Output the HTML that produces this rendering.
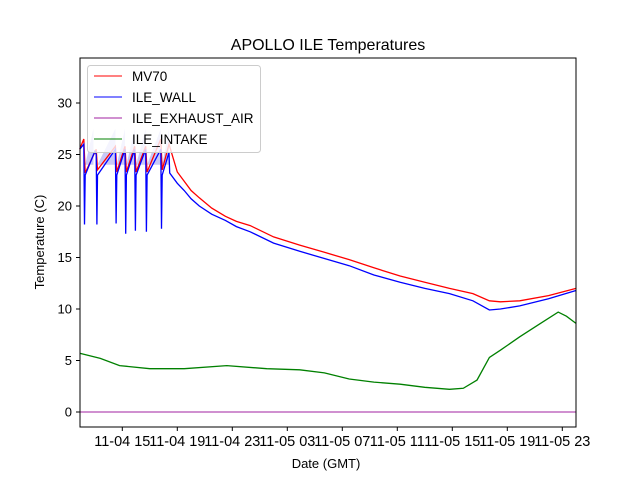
<!DOCTYPE html>
<html><head><meta charset="utf-8"><style>
body{margin:0;background:#fff;}
svg{display:block;font-family:"Liberation Sans","DejaVu Sans",sans-serif;}
</style></head><body>
<svg id="chart" width="640" height="480">
<rect width="640" height="480" fill="#fff"/>
<text x="328" y="50" text-anchor="middle" font-size="16">APOLLO ILE Temperatures</text>
<g id="series"></g>
<rect x="80" y="58" width="496" height="369" fill="none" stroke="#000" stroke-width="1"/>
<g id="axes"></g>
<text x="326" y="468" text-anchor="middle" font-size="13">Date (GMT)</text>
<text transform="translate(44,242) rotate(-90)" text-anchor="middle" font-size="13">Temperature (C)</text>
<g>
<rect x="87.5" y="65.5" width="173" height="87" rx="3" fill="#fff" fill-opacity="0.8" stroke="#ccc"/>
<g><line x1="94" y1="76" x2="122" y2="76" stroke="red"/><text x="132" y="81" font-size="13.5">MV70</text></g>
<g><line x1="94" y1="97" x2="122" y2="97" stroke="blue"/><text x="132" y="102" font-size="13.5">ILE_WALL</text></g>
<g><line x1="94" y1="118" x2="122" y2="118" stroke="#a020a0"/><text x="132" y="123" font-size="13.5">ILE_EXHAUST_AIR</text></g>
<g><line x1="94" y1="139" x2="122" y2="139" stroke="green"/><text x="132" y="144" font-size="13.5">ILE_INTAKE</text></g>
</g>
</svg>
<script>
// hours since 11-04 00:00
const blueT=[11.9,12.2,12.25,12.3,13.0,13.1,13.15,13.2,14.5,14.55,14.6,15.2,15.25,15.3,15.9,15.95,16.0,16.7,16.75,16.8,17.8,17.85,17.9,18.4,18.45,19.0,19.5,20.0,20.6,21.5,22.5,23.3,24.3,26,27.9,29.7,31.5,33.3,35.2,37,38.8,40.5,41.7,42.5,43.9,46,48];
const blueV=[25.5,26,18.2,23,25.3,25,18.2,23,25.5,18.3,23,25.5,17.3,23,25.5,17.6,23,25.5,17.5,23,25.5,17.8,23,25.2,23.2,22.2,21.5,20.7,20.0,19.2,18.6,18.0,17.5,16.4,15.6,14.9,14.2,13.3,12.6,12.0,11.5,10.8,9.9,10.0,10.3,11.0,11.8];
const redT=[11.9,12.2,12.3,13.1,13.2,14.5,14.6,15.2,15.3,15.9,16.0,16.7,16.8,17.8,17.9,18.4,19.0,19.5,20.0,20.6,21.5,22.5,23.3,24.3,26,27.9,29.7,31.5,33.3,35.2,37,38.8,40.5,41.7,42.5,43.9,46,48];
const redV=[25.5,26.5,23.2,25.5,23.5,25.8,23.3,25.8,23.3,25.8,23.3,25.8,23.3,26.5,23.5,26,23.3,22.4,21.5,20.8,19.8,19.0,18.5,18.1,17.0,16.2,15.5,14.8,14.0,13.2,12.6,12.0,11.5,10.8,10.7,10.8,11.3,12.0];
const greenT=[11.9,13.4,14.8,17,19.5,22.6,25.5,27.9,29.7,31.5,33.3,35.2,37,38.8,39.8,40.8,41.7,42.5,43.9,45.3,46.7,47.3,48];
const greenV=[5.7,5.2,4.5,4.2,4.2,4.5,4.2,4.1,3.8,3.2,2.9,2.7,2.4,2.2,2.3,3.1,5.3,6.0,7.3,8.5,9.7,9.3,8.6];
const purpleT=[11.9,48];
const purpleV=[0,0];
const bandStart=[12.3,13.2,14.6,15.3,16.0,16.8,17.9];
const bandEnd=[12.9,14.5,15.2,15.9,16.7,17.8,18.4];
const bandLow=24, bandHigh=27.5;
const xTicks=[15,19,23,27,31,35,39,43,47];
const xLabels=["11-04 15","11-04 19","11-04 23","11-05 03","11-05 07","11-05 11","11-05 15","11-05 19","11-05 23"];
const yTicks=[0,5,10,15,20,25,30];

const X=h=>122.3+(h-15)*13.75;
const Y=v=>412-v*10.3;
const NS="http://www.w3.org/2000/svg";
const ser=document.getElementById('series');
const axes=document.getElementById('axes');
function line(T,V,color,name,w){
  const p=document.createElementNS(NS,'polyline');
  p.setAttribute('points',T.map((t,i)=>X(t).toFixed(1)+','+Y(V[i]).toFixed(1)).join(' '));
  p.setAttribute('fill','none');p.setAttribute('stroke',color);p.setAttribute('stroke-width',w);
  
  
  ser.appendChild(p);
}
bandStart.forEach((s,i)=>{
  const e=bandEnd[i];
  const poly=document.createElementNS(NS,'polygon');
  poly.setAttribute('points',[[s,bandLow],[e,bandHigh],[e,bandLow]].map(a=>X(a[0]).toFixed(1)+','+Y(a[1]).toFixed(1)).join(' '));
  poly.setAttribute('fill','#c8c8f8');
  
  
  ser.appendChild(poly);
});
line(greenT,greenV,'green','ile-intake-line',1.3);
line(purpleT,purpleV,'#a020a0','ile-exhaust-air-line',1);
line(redT,redV,'red','mv70-line',1.3);
line(blueT,blueV,'blue','ile-wall-line',1.3);
yTicks.forEach(v=>{
  const l=document.createElementNS(NS,'line');
  l.setAttribute('x1',76);l.setAttribute('x2',80);l.setAttribute('y1',Y(v));l.setAttribute('y2',Y(v));l.setAttribute('stroke','#000');
  
  
  axes.appendChild(l);
  const t=document.createElementNS(NS,'text');
  t.setAttribute('x',72);t.setAttribute('y',Y(v)+4.5);t.setAttribute('text-anchor','end');t.setAttribute('font-size','13');
  t.textContent=v;
  
  
  axes.appendChild(t);
});
xTicks.forEach((h,i)=>{
  const l=document.createElementNS(NS,'line');
  l.setAttribute('x1',X(h));l.setAttribute('x2',X(h));l.setAttribute('y1',427);l.setAttribute('y2',431);l.setAttribute('stroke','#000');
  
  
  axes.appendChild(l);
  const t=document.createElementNS(NS,'text');
  t.setAttribute('x',X(h));t.setAttribute('y',446);t.setAttribute('text-anchor','middle');t.setAttribute('font-size','14.5');
  t.textContent=xLabels[i];
  
  
  axes.appendChild(t);
});
</script>
</body></html>
